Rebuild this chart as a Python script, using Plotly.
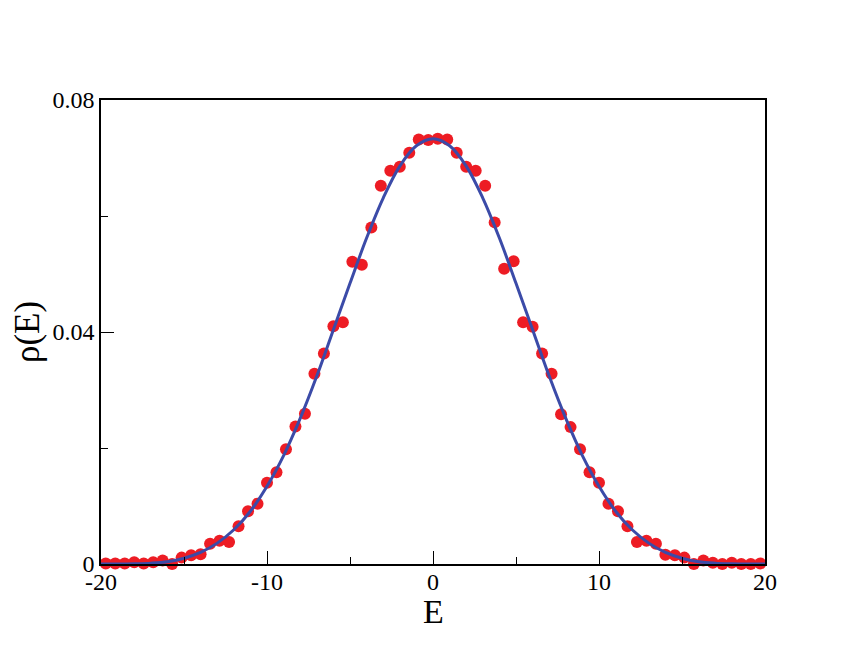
import plotly.graph_objects as go

# Histogram points (bin centres, density)
E_pts = [-19.714, -19.143, -18.571, -18.0, -17.429, -16.857, -16.286, -15.714, -15.143, -14.571,
         -14.0, -13.429, -12.857, -12.286, -11.714, -11.143, -10.571, -10.0, -9.429, -8.857,
         -8.286, -7.714, -7.143, -6.571, -6.0, -5.429, -4.857, -4.286, -3.714, -3.143,
         -2.571, -2.0, -1.429, -0.857, -0.286, 0.286, 0.857, 1.429, 2.0, 2.571,
         3.143, 3.714, 4.286, 4.857, 5.429, 6.0, 6.571, 7.143, 7.714, 8.286,
         8.857, 9.429, 10.0, 10.571, 11.143, 11.714, 12.286, 12.857, 13.429, 14.0,
         14.571, 15.143, 15.714, 16.286, 16.857, 17.429, 18.0, 18.571, 19.143, 19.714]
rho_pts = [0.0001, 0.0001, 0.0001, 0.0003, 0.0001, 0.0003, 0.0006, 0.0000, 0.0011, 0.0015,
           0.0017, 0.0035, 0.0040, 0.0038, 0.0065, 0.0091, 0.0104, 0.0140, 0.0158, 0.0198,
           0.0237, 0.0259, 0.0328, 0.0363, 0.0410, 0.0417, 0.0521, 0.0516, 0.0580, 0.0652,
           0.0678, 0.0685, 0.0709, 0.0732, 0.0731, 0.0733, 0.0732, 0.0709, 0.0685, 0.0678,
           0.0652, 0.0589, 0.0509, 0.0522, 0.0417, 0.0409, 0.0363, 0.0328, 0.0258, 0.0236,
           0.0198, 0.0158, 0.0140, 0.0104, 0.0091, 0.0065, 0.0038, 0.0040, 0.0035, 0.0016,
           0.0015, 0.0011, 0.0000, 0.0006, 0.0002, 0.0000, 0.0002, 0.0000, 0.0000, 0.0001]

# Smooth curve
E_line = list(range(-20, 21))
rho_line = [0.0, 0.0, 0.00005, 0.00015, 0.0004, 0.0010, 0.0020, 0.0036, 0.0059, 0.0091,
            0.0134, 0.0187, 0.0251, 0.0324, 0.0404, 0.0484, 0.0562, 0.0631, 0.0686, 0.0721,
            0.0733,
            0.0721, 0.0686, 0.0631, 0.0562, 0.0484, 0.0404, 0.0324, 0.0251, 0.0187, 0.0134,
            0.0091, 0.0059, 0.0036, 0.0020, 0.0010, 0.0004, 0.00015, 0.00005, 0.0, 0.0]

x_ticks = [-20, -10, 0, 10, 20]
x_ticktext = ["-20", "-10", "0", "10", "20"]
y_ticks = [0, 0.04, 0.08]
y_ticktext = ["0", "0.04", "0.08"]

fig = go.Figure()
fig.add_trace(go.Scatter(x=E_pts, y=rho_pts, mode="markers",
                         marker=dict(color="#ED1C24", size=12, line=dict(width=0)),
                         showlegend=False, cliponaxis=False))
fig.add_trace(go.Scatter(x=E_line, y=rho_line, mode="lines",
                         line=dict(color="#3B4BA8", width=3, shape="spline", smoothing=1.0),
                         showlegend=False))

font = "Liberation Serif, Times New Roman, serif"
fig.update_layout(
    width=861, height=664,
    paper_bgcolor="white", plot_bgcolor="white",
    margin=dict(l=93, r=104, t=92, b=108, autoexpand=False),
    font=dict(family=font, color="black"),
    xaxis=dict(range=[-20, 20], tickvals=x_ticks, ticktext=x_ticktext,
               ticks="inside", ticklen=13, tickwidth=1, tickcolor="black",
               minor=dict(tickvals=[-15, -5, 5, 15], ticks="inside", ticklen=7,
                          tickwidth=1, tickcolor="black", showgrid=False),
               showline=True, linecolor="black", linewidth=1.5, mirror=True,
               showgrid=False, zeroline=False, ticklabelstandoff=-5,
               tickfont=dict(size=24, family=font)),
    yaxis=dict(range=[0, 0.08], tickvals=y_ticks, ticktext=y_ticktext,
               ticks="inside", ticklen=13, tickwidth=1, tickcolor="black",
               minor=dict(tickvals=[0.02, 0.06], ticks="inside", ticklen=7,
                          tickwidth=1, tickcolor="black", showgrid=False),
               showline=True, linecolor="black", linewidth=1.5, mirror=True,
               showgrid=False, zeroline=False,
               tickfont=dict(size=24, family=font),
               title=dict(text="ρ(E)", font=dict(size=35, family=font), standoff=6)),
    annotations=[dict(text="E", xref="paper", yref="paper", x=0.5, y=0,
                      xanchor="center", yanchor="top", yshift=-27, showarrow=False,
                      font=dict(size=34, family=font, color="black"))],
)

fig.write_html("out.html")
